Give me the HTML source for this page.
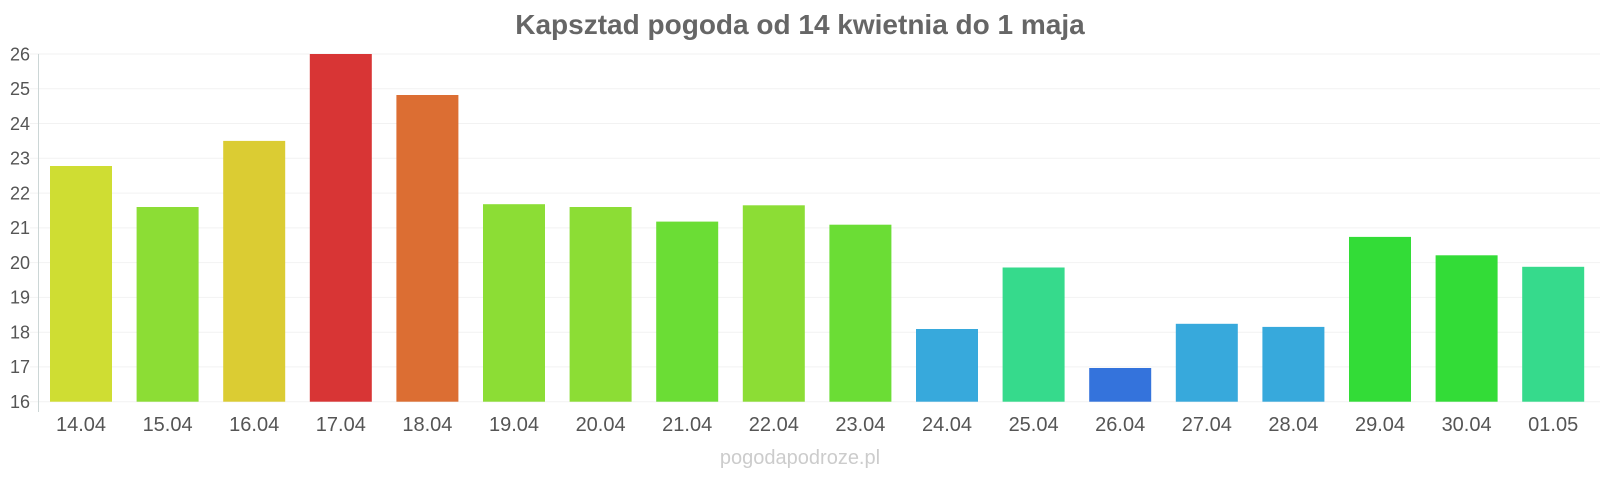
<!DOCTYPE html>
<html><head><meta charset="utf-8"><style>
body{margin:0;width:1600px;height:480px;background:#fff;overflow:hidden;font-family:"Liberation Sans",sans-serif}
</style></head><body>
<svg width="1600" height="480" xmlns="http://www.w3.org/2000/svg" font-family="Liberation Sans, sans-serif">
<text x="800" y="34" text-anchor="middle" font-size="28" font-weight="bold" fill="#666">Kapsztad pogoda od 14 kwietnia do 1 maja</text>
<g stroke="#f2f2f2">
<line x1="30" x2="1600" y1="401.7" y2="401.7"/><line x1="30" x2="1600" y1="366.9" y2="366.9"/><line x1="30" x2="1600" y1="332.2" y2="332.2"/><line x1="30" x2="1600" y1="297.4" y2="297.4"/><line x1="30" x2="1600" y1="262.6" y2="262.6"/><line x1="30" x2="1600" y1="227.9" y2="227.9"/><line x1="30" x2="1600" y1="193.1" y2="193.1"/><line x1="30" x2="1600" y1="158.3" y2="158.3"/><line x1="30" x2="1600" y1="123.5" y2="123.5"/><line x1="30" x2="1600" y1="88.8" y2="88.8"/><line x1="30" x2="1600" y1="54" y2="54"/>
</g>
<g font-size="18" fill="#555" text-anchor="end">
<text x="30" y="408">16</text><text x="30" y="373.2">17</text><text x="30" y="338.5">18</text><text x="30" y="303.7">19</text><text x="30" y="268.9">20</text><text x="30" y="234.2">21</text><text x="30" y="199.4">22</text><text x="30" y="164.6">23</text><text x="30" y="129.8">24</text><text x="30" y="95.1">25</text><text x="30" y="60.3">26</text>
</g>
<line x1="38.5" y1="54" x2="38.5" y2="412" stroke="#ccd6d6" stroke-width="1"/>
<g>
<rect x="50" y="166.0" width="62" height="235.7" fill="#cfdd33"/>
<rect x="136.6" y="207.0" width="62" height="194.7" fill="#8cdd35"/>
<rect x="223.2" y="140.9" width="62" height="260.8" fill="#dbcc33"/>
<rect x="309.8" y="54.0" width="62" height="347.7" fill="#d83535"/>
<rect x="396.4" y="95.0" width="62" height="306.7" fill="#dc6e33"/>
<rect x="483" y="204.2" width="62" height="197.5" fill="#8cdd35"/>
<rect x="569.6" y="207.0" width="62" height="194.7" fill="#8cdd35"/>
<rect x="656.2" y="221.6" width="62" height="180.1" fill="#6bdd35"/>
<rect x="742.8" y="205.3" width="62" height="196.4" fill="#8cdd35"/>
<rect x="829.4" y="224.7" width="62" height="177.0" fill="#6bdd35"/>
<rect x="916" y="329.0" width="62" height="72.7" fill="#37a9dc"/>
<rect x="1002.6" y="267.5" width="62" height="134.2" fill="#36da8c"/>
<rect x="1089.2" y="368.0" width="62" height="33.7" fill="#3473dc"/>
<rect x="1175.8" y="323.8" width="62" height="77.9" fill="#37a9dc"/>
<rect x="1262.4" y="326.9" width="62" height="74.8" fill="#37a9dc"/>
<rect x="1349" y="236.9" width="62" height="164.8" fill="#33dc37"/>
<rect x="1435.6" y="255.3" width="62" height="146.4" fill="#33dc37"/>
<rect x="1522.2" y="266.8" width="62" height="134.9" fill="#36da8c"/>
</g>
<g font-size="20" fill="#555" text-anchor="middle">
<text x="81" y="431">14.04</text><text x="167.6" y="431">15.04</text><text x="254.2" y="431">16.04</text><text x="340.8" y="431">17.04</text><text x="427.4" y="431">18.04</text><text x="514" y="431">19.04</text><text x="600.6" y="431">20.04</text><text x="687.2" y="431">21.04</text><text x="773.8" y="431">22.04</text><text x="860.4" y="431">23.04</text><text x="947" y="431">24.04</text><text x="1033.6" y="431">25.04</text><text x="1120.2" y="431">26.04</text><text x="1206.8" y="431">27.04</text><text x="1293.4" y="431">28.04</text><text x="1380" y="431">29.04</text><text x="1466.6" y="431">30.04</text><text x="1553.2" y="431">01.05</text>
</g>
<text x="800" y="464" text-anchor="middle" font-size="20" fill="#ccc">pogodapodroze.pl</text>
</svg>
</body></html>
